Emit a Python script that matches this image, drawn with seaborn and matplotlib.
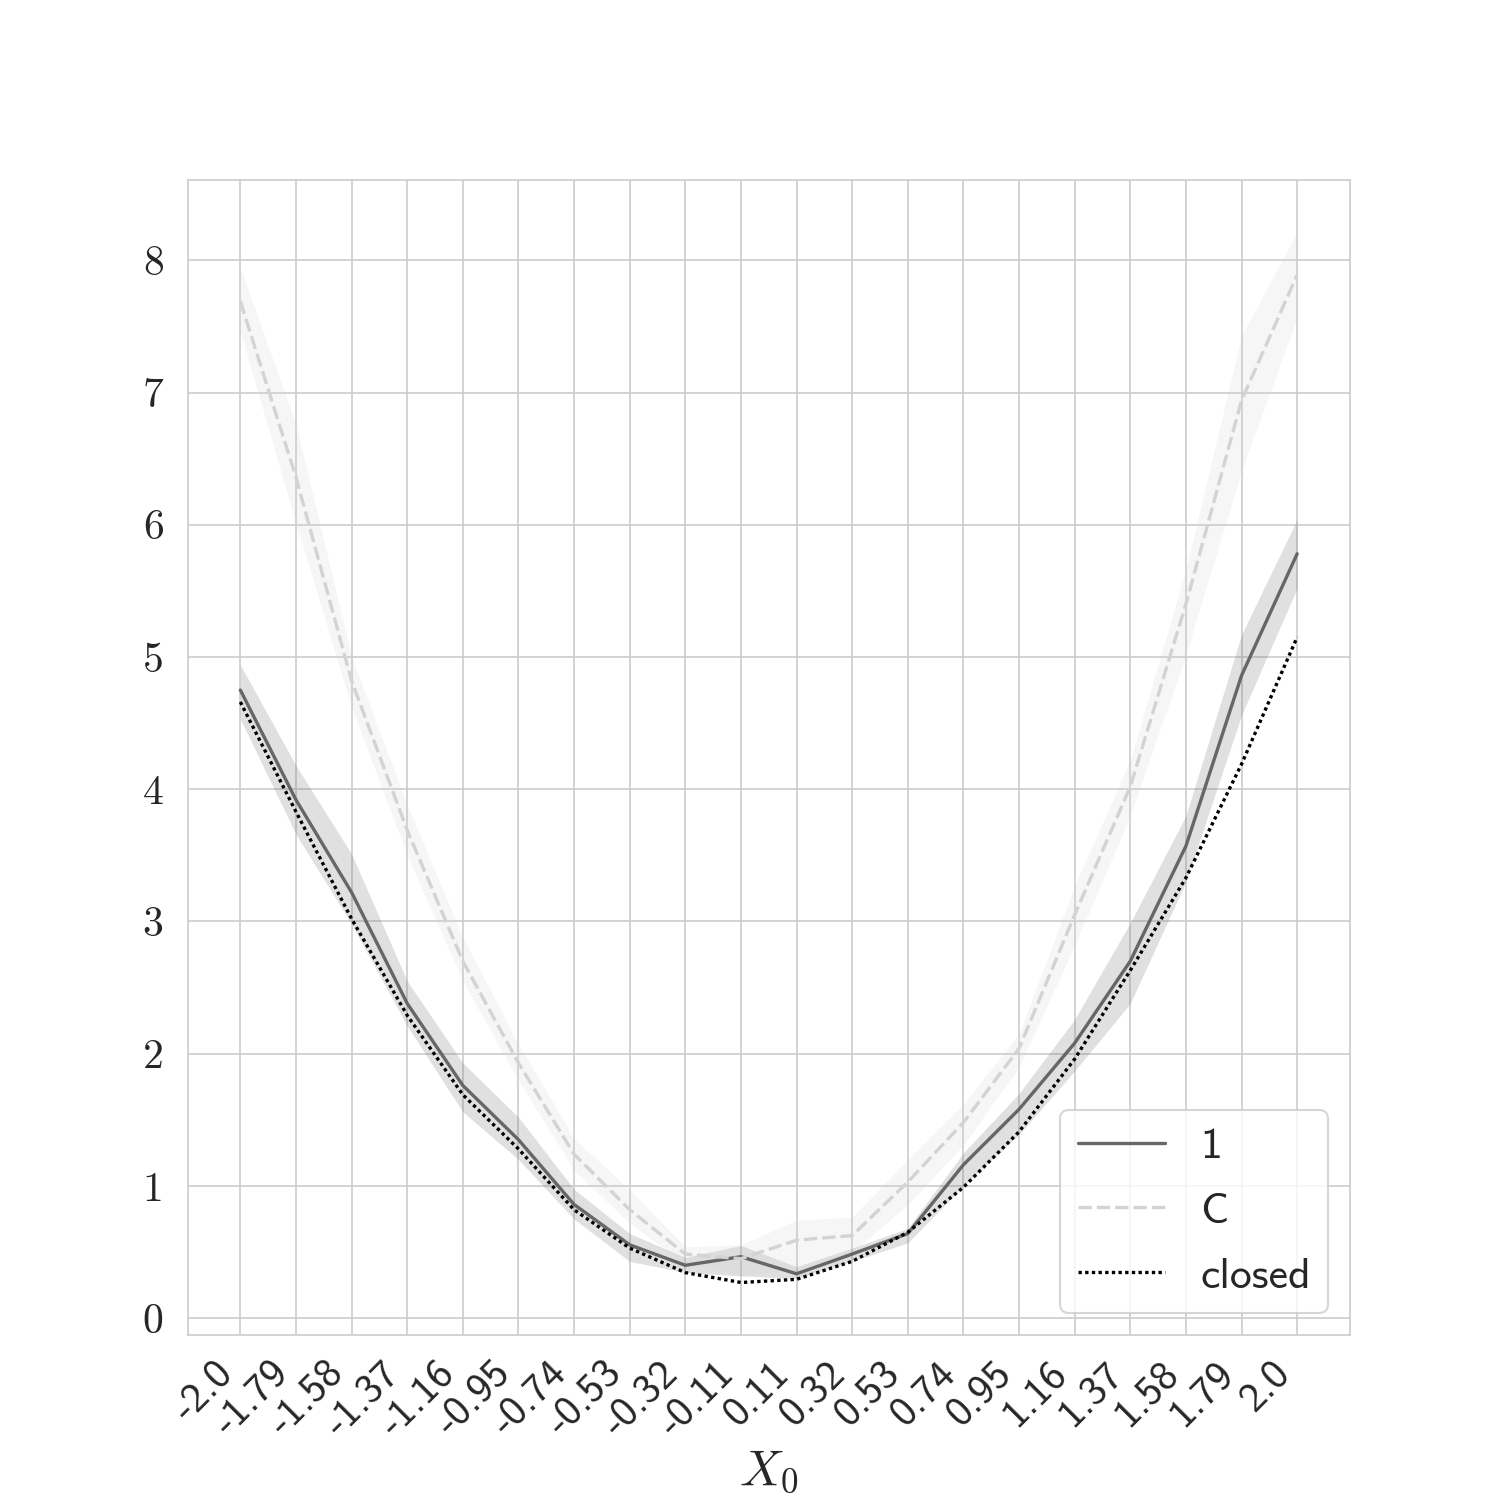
import os
import numpy as np
import pandas as pd
import matplotlib
matplotlib.use("Agg")
import matplotlib as mpl
import matplotlib.pyplot as plt
from matplotlib.font_manager import FontProperties
import seaborn as sns

# ---------------- data ----------------
x_vals = [-2.0, -1.7895, -1.5789, -1.3684, -1.1579, -0.9474, -0.7368, -0.5263,
          -0.3158, -0.1053, 0.1053, 0.3158, 0.5263, 0.7368, 0.9474, 1.1579,
          1.3684, 1.5789, 1.7895, 2.0]
x_labels = ["-2.0", "-1.79", "-1.58", "-1.37", "-1.16", "-0.95", "-0.74", "-0.53",
            "-0.32", "-0.11", "0.11", "0.32", "0.53", "0.74", "0.95", "1.16",
            "1.37", "1.58", "1.79", "2.0"]

one_mean = [4.75, 3.92, 3.22, 2.38, 1.76, 1.35, 0.86, 0.555, 0.40, 0.465,
            0.336, 0.485, 0.64, 1.16, 1.58, 2.08, 2.70, 3.57, 4.86, 5.78]
one_low = [4.53, 3.66, 2.98, 2.21, 1.56, 1.20, 0.75, 0.43, 0.345, 0.32,
           0.30, 0.43, 0.57, 1.00, 1.39, 1.87, 2.38, 3.30, 4.56, 5.52]
one_high = [4.94, 4.18, 3.51, 2.55, 1.93, 1.52, 0.975, 0.64, 0.46, 0.55,
            0.39, 0.53, 0.68, 1.25, 1.70, 2.26, 2.99, 3.80, 5.17, 6.04]

c_mean = [7.69, 6.36, 4.82, 3.69, 2.70, 1.93, 1.24, 0.82, 0.485, 0.45,
          0.59, 0.625, 1.03, 1.48, 2.04, 3.05, 4.02, 5.40, 6.94, 7.89]
c_low = [7.46, 6.01, 4.62, 3.50, 2.55, 1.80, 1.12, 0.72, 0.41, 0.33,
         0.36, 0.50, 0.86, 1.31, 1.90, 2.82, 3.80, 5.02, 6.41, 7.57]
c_high = [7.94, 6.76, 5.00, 3.88, 2.88, 2.07, 1.36, 0.97, 0.54, 0.555,
          0.74, 0.765, 1.20, 1.62, 2.15, 3.27, 4.22, 5.66, 7.43, 8.21]

closed = [4.66, 3.83, 3.02, 2.29, 1.69, 1.28, 0.82, 0.53, 0.345, 0.27,
          0.294, 0.43, 0.65, 0.99, 1.41, 1.96, 2.63, 3.33, 4.19, 5.15]

series_names = ["1", "C", "closed"]
y_ticks = [0, 1, 2, 3, 4, 5, 6, 7, 8]

# ---------------- fonts ----------------
ttf_dir = os.path.join(mpl.get_data_path(), "fonts", "ttf")
cmr = FontProperties(fname=os.path.join(ttf_dir, "cmr10.ttf"), size=20)
cmss = FontProperties(fname=os.path.join(ttf_dir, "cmss10.ttf"), size=20)
cmss_leg = FontProperties(fname=os.path.join(ttf_dir, "cmss10.ttf"), size=21)

sns.set_style("whitegrid")
plt.rcParams["mathtext.fontset"] = "cm"

colors = {"1": "#666666", "C": "#d3d3d3", "closed": "#000000"}
dashes = {"1": "", "C": (4, 1.5), "closed": (1, 1)}

df = pd.DataFrame({
    "x": x_vals * 3,
    "y": one_mean + c_mean + closed,
    "series": [series_names[0]] * len(x_vals) + [series_names[1]] * len(x_vals)
              + [series_names[2]] * len(x_vals),
})

fig, ax = plt.subplots(figsize=(10, 10), dpi=150)

ax.fill_between(x_vals, one_low, one_high, color=colors["1"], alpha=0.2, linewidth=0)
ax.fill_between(x_vals, c_low, c_high, color=colors["C"], alpha=0.2, linewidth=0)

sns.lineplot(data=df, x="x", y="y", hue="series", style="series",
             palette=colors, dashes=dashes, hue_order=series_names,
             style_order=series_names, linewidth=1.6, ax=ax)

ax.set_xticks(x_vals)
ax.set_xticklabels(x_labels, rotation=45, ha="right", fontproperties=cmss, color=".15")
ax.set_yticks(y_ticks)
ax.set_yticklabels([str(v) for v in y_ticks], fontproperties=cmr, color=".15")
ax.tick_params(axis="y", pad=8)
ax.tick_params(axis="x", pad=6)

ax.set_xlabel(r"$X_0$", fontsize=24, color=".15", labelpad=2)
ax.set_ylabel("")

handles, labels = ax.get_legend_handles_labels()
leg = ax.legend(handles=handles, labels=labels, loc="lower right", prop=cmss_leg,
                frameon=True, borderpad=0.4, labelspacing=0.6)

fig.savefig("out.png", dpi=150)
